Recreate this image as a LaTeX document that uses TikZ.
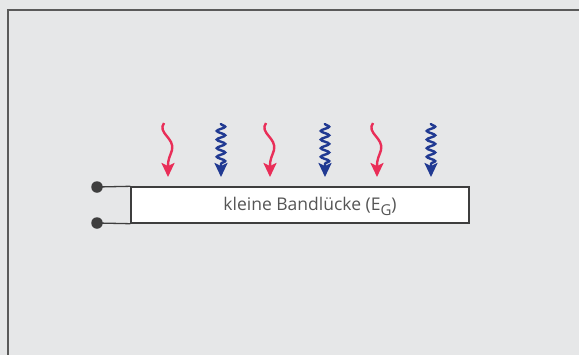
\documentclass[tikz,border=0pt]{standalone}
\usepackage{fontspec}
\setmainfont{Open Sans}
\usepackage{tikz}
\usetikzlibrary{arrows.meta,decorations.pathmorphing}
\definecolor{panelbg}{RGB}{230,231,232}
\definecolor{framegray}{RGB}{90,90,90}
\definecolor{wiregray}{RGB}{62,62,62}
\definecolor{textgray}{RGB}{85,85,85}
\definecolor{photonred}{RGB}{233,46,88}
\definecolor{photonblue}{RGB}{33,58,146}
\tikzset{photon/.style={line width=2.4pt,-{Stealth[length=14pt,width=13pt,inset=3pt]}},
 longwave/.style={photon,photonred},
 shortwave/.style={photon,photonblue,decorate,
   decoration={snake,amplitude=4.2pt,segment length=8.6pt,pre length=1pt,post length=11pt}},
 terminal/.style={circle,fill=wiregray,inner sep=0pt,minimum size=11.5pt},
 wire/.style={wiregray,line width=1.3pt},
 every node/.style={font=\fontsize{17.5}{21}\selectfont,text=textgray}}
\newcommand{\gapsub}[1]{\raisebox{-5pt}{\fontsize{15}{18}\selectfont #1}}

\begin{document}
\begin{tikzpicture}[x=1pt,y=-1pt]
\useasboundingbox (0,0) rectangle (579,354);
\fill[panelbg] (-3,-3) rectangle (583,358);
\draw[framegray,line width=1.5pt] (8,358) |- (583,10);
% semiconductor strip with the two contacts
\node[draw=wiregray,line width=1.4pt,fill=white,minimum width=338pt,minimum height=36pt,
  inner sep=0pt] (band) at (300,205) {};
\node (caption) at (310,206) {kleine Bandlücke (E\gapsub{G})};
\node[terminal] (top) at (97,187) {};
\node[terminal] (bottom) at (97,223) {};
\draw[wire] (top.center) -- (band.north west);
\draw[wire] (bottom.center) -- (band.south west);
% incoming light: long wavelength (red), short wavelength (blue)
\foreach \x [count=\i] in {168,270,377} {
  \coordinate (r\i) at (\x-4,123);
  \coordinate (rtip\i) at (\x,177);
  \draw[longwave] (r\i) .. controls (\x-11,133) and (\x+7,138) .. (\x+4,150)
    .. controls (\x+2,157) and (\x,158) .. (rtip\i);
}
\foreach \x [count=\i] in {221,325,431} {
  \coordinate (b\i) at (\x,123);
  \coordinate (btip\i) at (\x,177);
  \draw[shortwave] (b\i) -- (btip\i);
}
\end{tikzpicture}
\end{document}
